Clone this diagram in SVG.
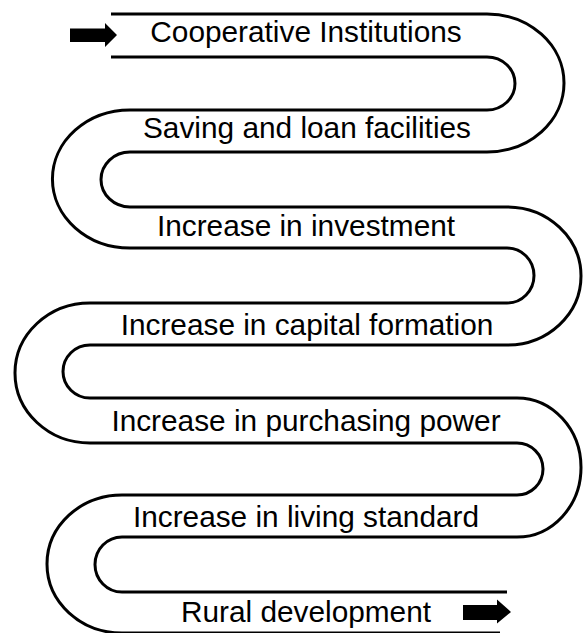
<svg xmlns="http://www.w3.org/2000/svg" width="583" height="633" viewBox="0 0 583 633">
  <style>
    .edge { fill: none; stroke: #000; stroke-width: 3; }
    .label { font-family: "Liberation Sans", Arial, sans-serif; font-size: 29.8px; fill: #000; text-anchor: middle; }
    .arrow { fill: #000; stroke: none; }
  </style>

  <!-- straight lanes of the winding road, one per stage -->
  <g id="stage-1">
    <path class="edge" d="M111 14H487M111 57H487"/>
    <text class="label" x="306" y="42">Cooperative Institutions</text>
  </g>
  <g id="stage-2">
    <path class="edge" d="M130 110H487M130 152H487"/>
    <text class="label" x="307" y="138">Saving and loan facilities</text>
  </g>
  <g id="stage-3">
    <path class="edge" d="M130 207H507M130 248H507"/>
    <text class="label" x="306" y="236">Increase in investment</text>
  </g>
  <g id="stage-4">
    <path class="edge" d="M90 303H507M90 345H507"/>
    <text class="label" x="307" y="335">Increase in capital formation</text>
  </g>
  <g id="stage-5">
    <path class="edge" d="M90 398H517M90 443H517"/>
    <text class="label" x="306" y="431">Increase in purchasing power</text>
  </g>
  <g id="stage-6">
    <path class="edge" d="M122 495H517M122 537H517"/>
    <text class="label" x="306" y="527">Increase in living standard</text>
  </g>
  <g id="stage-7">
    <path class="edge" d="M122 592H507M122 633H500"/>
    <text class="label" x="306" y="622">Rural development</text>
  </g>

  <!-- U-turns joining consecutive lanes -->
  <g id="connectors">
    <path class="edge" d="M487 14A77 69 0 0 1 487 152"/>
    <path class="edge" d="M487 57A28 26.5 0 0 1 487 110"/>
    <path class="edge" d="M130 110A77 68.5 0 0 0 130 248"/>
    <path class="edge" d="M130 152A29 27.5 0 0 0 130 207"/>
    <path class="edge" d="M507 207A74 69 0 0 1 507 345"/>
    <path class="edge" d="M507 248A27 27.5 0 0 1 507 303"/>
    <path class="edge" d="M90 303A75 70 0 0 0 90 443"/>
    <path class="edge" d="M90 345A27 26.5 0 0 0 90 398"/>
    <path class="edge" d="M517 398A64 69.5 0 0 1 517 537"/>
    <path class="edge" d="M517 443A26 26 0 0 1 517 495"/>
    <path class="edge" d="M122 495A75 69 0 0 0 122 633"/>
    <path class="edge" d="M122 537A27 27.5 0 0 0 122 592"/>
  </g>

  <!-- start and end arrows -->
  <g id="arrows">
    <polygon class="arrow" points="70,28.5 105,28.5 105,23 117,35 105,47 105,42 70,42"/>
    <polygon class="arrow" points="463,605 497,605 497,599.5 511,612 497,623.5 497,620 463,620"/>
  </g>
</svg>
